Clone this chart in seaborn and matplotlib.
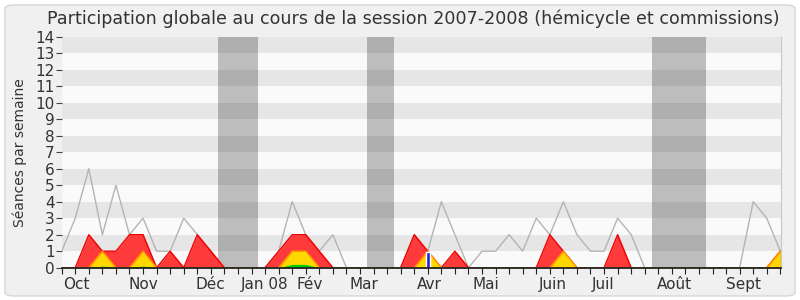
import numpy as np
import pandas as pd
import matplotlib
matplotlib.use("Agg")
import matplotlib.pyplot as plt
import seaborn as sns
from matplotlib.patches import FancyBboxPatch

weeks = list(range(54))
total = [1, 3, 6, 2, 5, 2, 3, 1, 1, 3, 2, 1, 0, 0, 0, 0, 1, 4, 2, 1, 2, 0, 0, 0, 0, 0,
         2, 1, 4, 2, 0, 1, 1, 2, 1, 3, 2, 4, 2, 1, 1, 3, 2, 0, 0, 0, 0, 0, 0, 0, 0, 4, 3, 1]
presence = [0, 0, 2, 1, 1, 2, 2, 0, 1, 0, 2, 1, 0, 0, 0, 0, 1, 2, 2, 1, 0, 0, 0, 0, 0, 0,
            2, 1, 0, 1, 0, 0, 0, 0, 0, 0, 2, 1, 0, 0, 0, 2, 0, 0, 0, 0, 0, 0, 0, 0, 0, 0, 0, 1]
interventions = [0, 0, 0, 1, 0, 0, 1, 0, 0, 0, 0, 0, 0, 0, 0, 0, 0, 1, 1, 0, 0, 0, 0, 0, 0, 0,
                 0, 1, 0, 0, 0, 0, 0, 0, 0, 0, 0, 1, 0, 0, 0, 0, 0, 0, 0, 0, 0, 0, 0, 0, 0, 0, 0, 1]
questions = [0, 0, 0, 0.1, 0, 0, 0.1, 0, 0, 0, 0, 0, 0, 0, 0, 0, 0, 0.2, 0.2, 0, 0, 0, 0, 0, 0, 0,
             0, 0, 0, 0, 0, 0, 0, 0, 0, 0, 0, 0, 0, 0, 0, 0, 0, 0, 0, 0, 0, 0, 0, 0, 0, 0, 0, 0]
oral_week = [27]
oral_value = [0.95]
vacations = [(11.5, 14.5), (22.5, 24.5), (43.5, 47.5)]
month_labels = ["Oct", "Nov", "Déc", "Jan 08", "Fév", "Mar", "Avr", "Mai", "Juin", "Juil", "Août", "Sept"]
month_pos = [1.1, 6.0, 11.0, 15.0, 18.3, 22.3, 27.1, 31.3, 36.2, 39.9, 45.2, 50.3]

df = pd.DataFrame({"week": weeks, "total": total, "presence": presence,
                   "interventions": interventions})

sns.set_theme(style="white")
plt.rcParams["font.family"] = ["DejaVu Sans"]

fig = plt.figure(figsize=(8, 3), dpi=100)
fig.patch.set_facecolor("white")
bg = FancyBboxPatch((5 / 800, 4 / 300), 790 / 800, 291 / 300,
                    boxstyle="round,pad=0,rounding_size=0.012",
                    transform=fig.transFigure, fc="#f0f0f0", ec="#d6d6d6", lw=1, zorder=-10)
fig.patches.append(bg)

ax = fig.add_axes([61.7 / 800, 32.3 / 300, (781 - 61.7) / 800, 231 / 300])
for k in range(14):
    ax.axhspan(k, k + 1, color="#e6e6e6" if k % 2 else "#fafafa", lw=0, zorder=0)
for a, b in vacations:
    ax.axvspan(a, b, color="#323232", alpha=0.3, lw=0, zorder=1)

sns.lineplot(data=df, x="week", y="total", ax=ax, color="#b4b4b4", lw=1, zorder=2)
ax.fill_between(weeks, presence, color="#ff3a3a", lw=0, zorder=3)
sns.lineplot(data=df, x="week", y="presence", ax=ax, color="#f00000", lw=1, zorder=3.1)
ax.fill_between(weeks, interventions, color="#ffd700", lw=0, zorder=4)
sns.lineplot(data=df, x="week", y="interventions", ax=ax, color="#ff9900", lw=1, zorder=4.1)
ax.fill_between(weeks, questions, color="#00d000", lw=0, zorder=5)
ax.bar(oral_week, oral_value, width=0.3, color="#2020e0", zorder=6)

ax.set_xlim(0, 53.05)
ax.set_ylim(0, 14)
ax.set_yticks(range(15))
ax.set_yticklabels([str(i) for i in range(15)], fontsize=11)
ax.set_xticks(weeks)
ax.set_xticklabels([])
ax.tick_params(axis="x", which="major", direction="out", length=4, width=0.8, color="#222222", bottom=True)
ax.tick_params(axis="y", direction="out", length=4, width=0.8, color="#444444", left=True, pad=1)
for p, lab in zip(month_pos, month_labels):
    ax.text(p, -0.55, lab, ha="center", va="top", fontsize=11, color="#333333",
            transform=ax.transData, clip_on=False)
ax.set_xlabel("")
ax.set_ylabel("Séances par semaine", fontsize=10, color="#333333", labelpad=6)
for s in ["top", "left"]:
    ax.spines[s].set_visible(False)
ax.spines["right"].set_color("#c8c8c8")
ax.spines["right"].set_linewidth(0.8)
ax.spines["bottom"].set_color("#222222")
ax.spines["bottom"].set_linewidth(1.3)
ax.spines["bottom"].set_zorder(10)
ax.tick_params(axis="y", labelcolor="#333333")
fig.text(413 / 800, 0.97, "Participation globale au cours de la session 2007-2008 (hémicycle et commissions)",
         ha="center", va="top", fontsize=12.6, color="#333333")

fig.savefig("out.png", dpi=100, facecolor=fig.get_facecolor())
